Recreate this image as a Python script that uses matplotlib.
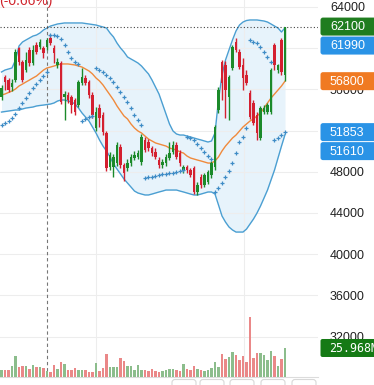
import matplotlib
matplotlib.use("Agg")
import matplotlib.pyplot as plt
from matplotlib.patches import FancyBboxPatch
import numpy as np

# ---------------- data ----------------
opens = [55260, 57200, 56910, 56230, 56910, 60020, 58660, 57880, 59830, 58560,
         60310, 60120, 60020, 60120, 61000, 60020, 58370, 58560, 55260, 55450,
         55260, 54970, 54480, 56620, 57100, 56720, 55450, 52250, 54200, 53510,
         51770, 48460, 48460, 48850, 50410, 48660, 48370, 48850, 49340, 49440,
         48950, 51090, 50900, 50310, 49920, 49150, 48660, 48850, 49340, 49920,
         50600, 49830, 48170, 48460, 48170, 48370, 46040, 47490, 46720, 47010,
         47690, 48460, 54000, 58660, 58370, 55260, 58080, 60600, 59630, 58370,
         57400, 55650, 54680, 53510, 51280, 53800, 53800, 53800, 60310, 57880,
         60800, 57400]
highs = [56400, 57400, 57100, 57000, 59900, 60120, 58900, 59600, 60100, 60300,
         60600, 60900, 60200, 61000, 61380, 60300, 59000, 58800, 55800, 55700,
         55500, 55200, 56900, 58080, 57400, 56900, 55700, 54300, 54600, 53800,
         52000, 49900, 49700, 50900, 50700, 48900, 49200, 49700, 50000, 50100,
         51700, 51400, 51200, 50500, 50300, 49400, 49200, 49700, 50900, 51000,
         50900, 50100, 48700, 48700, 48400, 48600, 47000, 47800, 47900, 48200,
         49000, 52500, 56200, 58860, 58800, 57400, 60300, 61000, 59900, 59050,
         57880, 55900, 55000, 53800, 54400, 54500, 54700, 58100, 60500, 58500,
         61000, 62100]
lows = [54970, 55940, 55700, 55800, 56700, 58370, 56700, 57700, 58300, 58400,
        59400, 59900, 59040, 59800, 60300, 58560, 58100, 54600, 53030, 54700,
        53700, 53500, 54300, 56400, 56400, 55200, 53200, 52000, 52350, 51600,
        48100, 48200, 47490, 48600, 48400, 47100, 48100, 48600, 49100, 49200,
        48700, 49900, 50000, 49500, 49200, 48400, 48400, 48600, 49100, 49700,
        49200, 48600, 47900, 47900, 47500, 45800, 45700, 46400, 46500, 46800,
        47400, 48200, 53700, 55000, 53200, 53030, 57900, 59600, 58000, 55940,
        56400, 53100, 52500, 51090, 51090, 53600, 53600, 53600, 57900, 57600,
        57400, 56800]
closes = [56130, 56720, 55940, 56620, 59630, 58660, 56910, 58850, 58560, 59830,
          59630, 60600, 59530, 60800, 60500, 59530, 58660, 54780, 55550, 54970,
          54480, 53800, 56720, 57200, 56620, 55450, 53510, 53800, 53220, 51860,
          48370, 49630, 49440, 50600, 48660, 47880, 48850, 49440, 49630, 49830,
          51380, 50120, 50310, 49830, 49440, 48660, 48950, 49440, 49830, 50600,
          49440, 48850, 48460, 48170, 47690, 46040, 46720, 46720, 47690, 47980,
          48850, 52350, 55940, 56620, 55940, 57200, 60120, 59830, 58170, 57110,
          56620, 53320, 52740, 51770, 54190, 54190, 54480, 57880, 58370, 58370,
          57690, 62100]
volumes_m = [6.5, 6.5, 6.0, 9.6, 19.1, 9.0, 9.6, 10.1, 7.4, 10.5,
             9.0, 8.7, 8.1, 5.1, 4.2, 11.0, 7.4, 13.2, 11.9, 6.0,
             6.5, 8.1, 6.0, 6.5, 6.5, 4.5, 4.5, 12.5, 5.1, 8.1,
             20.9, 9.0, 9.0, 9.0, 17.0, 14.1, 9.6, 9.6, 6.5, 10.5,
             6.5, 6.5, 5.6, 7.4, 5.1, 4.5, 5.1, 6.5, 7.4, 7.4,
             6.5, 5.1, 11.6, 7.4, 6.7, 10.1, 7.2, 6.0, 5.1, 6.5,
             8.1, 13.2, 8.7, 20.6, 16.1, 17.6, 22.4, 20.0, 15.0, 18.5,
             13.4, 53.4, 17.0, 21.5, 21.5, 20.0, 15.5, 23.0, 19.1, 10.1,
             16.1, 25.968]
bb_upper = [57690, 57880, 57980, 58080, 58850, 60210, 60600, 60800, 60990, 61180,
            61280, 61480, 61770, 61960, 62150, 62250, 62350, 62400, 62450, 62450,
            62450, 62450, 62450, 62450, 62400, 62350, 62300, 62250, 62150, 62060,
            61960, 61480, 61090, 60500, 60020, 59630, 59150, 58950, 58760, 58560,
            58270, 57880, 57500, 56910, 56230, 55550, 54580, 53610, 52640, 51960,
            51670, 51570, 51570, 51470, 51380, 51280, 51180, 51090, 50990, 50890,
            50990, 51770, 54970, 57400, 58850, 59830, 60800, 61670, 62250, 62540,
            62690, 62740, 62740, 62740, 62690, 62640, 62540, 62350, 62150, 61960,
            61570, 61990]
bb_middle = [55455, 55553, 55700, 55845, 56040, 56330, 56520, 56720, 56910, 57110,
             57300, 57590, 57880, 58080, 58170, 58270, 58370, 58470, 58470, 58470,
             58420, 58370, 58270, 58170, 57980, 57790, 57500, 57110, 56820, 56430,
             55940, 55460, 54970, 54390, 53900, 53420, 53130, 52640, 52250, 51960,
             51770, 51470, 51180, 50990, 50800, 50700, 50600, 50500, 50310, 50210,
             50120, 49920, 49820, 49530, 49340, 49240, 49140, 49050, 48950, 48850,
             48850, 49050, 49440, 50020, 50500, 50890, 51280, 51570, 51960, 52350,
             52640, 52930, 53130, 53420, 53710, 54190, 54680, 55160, 55550, 55940,
             56330, 56800]
bb_lower = [53800, 53850, 53900, 53950, 54000, 54000, 54100, 54190, 54240, 54290,
            54390, 54440, 54480, 54530, 54580, 54680, 54870, 54970, 54970, 54870,
            54780, 54580, 54190, 53710, 53320, 52930, 52350, 51770, 51090, 50500,
            50020, 49440, 48760, 48270, 47790, 47300, 46910, 46520, 46130, 45940,
            45840, 45750, 45750, 45840, 45940, 46040, 46130, 46230, 46230, 46230,
            46230, 46130, 46040, 45940, 45840, 45750, 45750, 45840, 45940, 46040,
            46040, 45840, 44780, 43710, 43120, 42640, 42350, 42150, 42150, 42150,
            42440, 42930, 43420, 44000, 44680, 45450, 46230, 47200, 48170, 49340,
            50500, 51610]
sar = [52540, 52740, 52930, 53220, 53610, 54190, 54680, 55160, 55650, 56130,
       56520, 56910, 57300, 57690, 61280, 61280, 61180, 60890, 60310, 59630,
       59050, 58660, 58470, 52930, 53130, 53320, 53420, 58080, 57880, 57690,
       57400, 57110, 56720, 56230, 55750, 55260, 54780, 54190, 53510, 53030,
       52540, 47400, 47450, 47490, 47590, 47690, 47740, 47790, 47880, 47930,
       47980, 48080, 48170, 51380, 51330, 51090, 50700, 50310, 49920, 49530,
       49240, 46040, 46420, 46910, 47490, 48080, 48850, 49820, 50890, 51380,
       52250, 60800, 60600, 60500, 60120, 59630, 59150, 58660, 51090, 51280,
       51570, 51853]
price_ticks = [32000, 36000, 40000, 44000, 48000, 52000, 56000, 60000, 64000]
header_text = "(-0.66%)"
crosshair_idx = 13
grid_x = [27, 69.3]

# ---------------- styling ----------------
W, H = 374, 385
GREEN = "#1b8a2a"
RED = "#d42030"
VGREEN = "#8cbd8c"
VRED = "#ea8888"
BAND = "#4b9fd2"
FILL = "#e7f3fb"
MID = "#f08a3c"
SARC = "#3f8cc6"

fig = plt.figure(figsize=(W / 100, H / 100), dpi=100)
fig.patch.set_facecolor("white")

ax_left, ax_right = 0, 318
ax_top, ax_bot = 0, 377
rect = [ax_left / W, (H - ax_bot) / H, (ax_right - ax_left) / W, (ax_bot - ax_top) / H]
ax = fig.add_axes(rect)

n = len(closes)
idx = np.arange(n)
step_px = 3.5
first_px = 1.5
px_per_price = 41.2 / 4000.0
top_price = 64000 + 7 / px_per_price
bot_price = top_price - ax_bot / px_per_price
ax.set_ylim(bot_price, top_price)

# grid and ticks
ax.set_yticks(price_ticks)
ax.set_yticklabels([str(t) for t in price_ticks])
ax.yaxis.tick_right()
ax.tick_params(axis="y", length=0, pad=8.6, labelsize=9, labelcolor="#222222")
for lab in ax.get_yticklabels():
    lab.set_fontfamily("Liberation Sans")
ax.set_xticks(grid_x)
ax.set_xticklabels([])
ax.tick_params(axis="x", length=0)
ax.grid(True, color="#ededed", lw=0.8)
for s in ["top", "left", "right"]:
    ax.spines[s].set_visible(False)
ax.spines["bottom"].set_color("#dcdcdc")
ax.spines["bottom"].set_linewidth(0.8)

# bollinger band
ax.fill_between(idx, bb_lower, bb_upper, color=FILL, zorder=1, lw=0)
ax.plot(idx, bb_upper, color=BAND, lw=1.0, zorder=2)
ax.plot(idx, bb_lower, color=BAND, lw=1.0, zorder=2)
ax.plot(idx, bb_middle, color=MID, lw=1.0, zorder=2)

# crosshair + last-price line
ax.axvline(crosshair_idx, color="#777777", lw=0.8, ls=(0, (3, 2.5)), zorder=3)
ax.axhline(closes[-1], color="#444444", lw=0.8, ls=(0, (1, 2)), zorder=3)

# candles
o = np.array(opens); c = np.array(closes); h = np.array(highs); l = np.array(lows)
up = c >= o
cols = np.where(up, GREEN, RED)
ax.vlines(idx, l, h, colors=cols, lw=1.0, zorder=4)
ax.bar(idx, np.abs(c - o), bottom=np.minimum(o, c), width=0.8, color=cols, zorder=5, lw=0)

# SAR
ax.plot(idx, sar, ls="none", marker="+", ms=3.2, mew=0.9, color=SARC, zorder=6)

# volume (separate transparent axes sharing x)
axv = fig.add_axes(rect, sharex=ax, zorder=1)
axv.patch.set_alpha(0)
axv.set_ylim(0, ax_bot / 1.117)
axv.axis("off")
vcols = np.where(up, VGREEN, VRED)
axv.bar(idx, volumes_m, width=0.74, color=vcols, lw=0, zorder=2)
ax.set_xlim(-first_px / step_px, (ax_right - first_px) / step_px)

# overlay for price tags
ov = fig.add_axes([0, 0, 1, 1], zorder=10)
ov.set_xlim(0, W); ov.set_ylim(H, 0); ov.axis("off")
ov.patch.set_alpha(0)

def price_to_px(p):
    disp = ax.transData.transform((0, p))
    return H - disp[1]

tags = [(closes[-1], "#1f7d1f", f"{closes[-1]}"),
        (bb_upper[-1], "#2a93e6", f"{bb_upper[-1]}"),
        (bb_middle[-1], "#f07a22", f"{bb_middle[-1]}"),
        (sar[-1], "#2a93e6", f"{sar[-1]}"),
        (bb_lower[-1], "#2a93e6", f"{bb_lower[-1]}")]
tags.sort(key=lambda t: -t[0])
tag_h = 19
prev = -1e9
for p, col, txt in tags:
    y = max(price_to_px(p), prev + tag_h)
    prev = y
    ov.add_patch(FancyBboxPatch((320.5, y - tag_h / 2 + 0.5), 60, tag_h - 1,
                                boxstyle="round,pad=0,rounding_size=2.5", fc=col, ec="none"))
    ov.text(330, y + 0.5, txt, color="white", fontsize=9, family="Liberation Sans",
            va="center", ha="left")

# volume tag
vy = ax_bot - volumes_m[-1] * 1.117
ov.add_patch(FancyBboxPatch((320.5, vy - 9), 60, 18,
                            boxstyle="round,pad=0,rounding_size=2", fc="#157a15", ec="none"))
ov.text(329, vy + 0.5, f"{volumes_m[-1]:.3f}M", color="white", fontsize=8.4,
        family="DejaVu Sans Mono", va="center", ha="left")

# bottom tab buttons
for x0 in [172, 200, 230, 261, 292]:
    ov.add_patch(FancyBboxPatch((x0, 379.5), 24, 12, boxstyle="round,pad=0,rounding_size=3",
                                fc="white", ec="#d8d8d8", lw=0.8))

# header text (partially cut at top)
ov.text(-1, 5, header_text, color="#d0242c", fontsize=10, family="Liberation Sans",
        va="baseline", ha="left")

fig.savefig("out.png", dpi=100, facecolor="white")
